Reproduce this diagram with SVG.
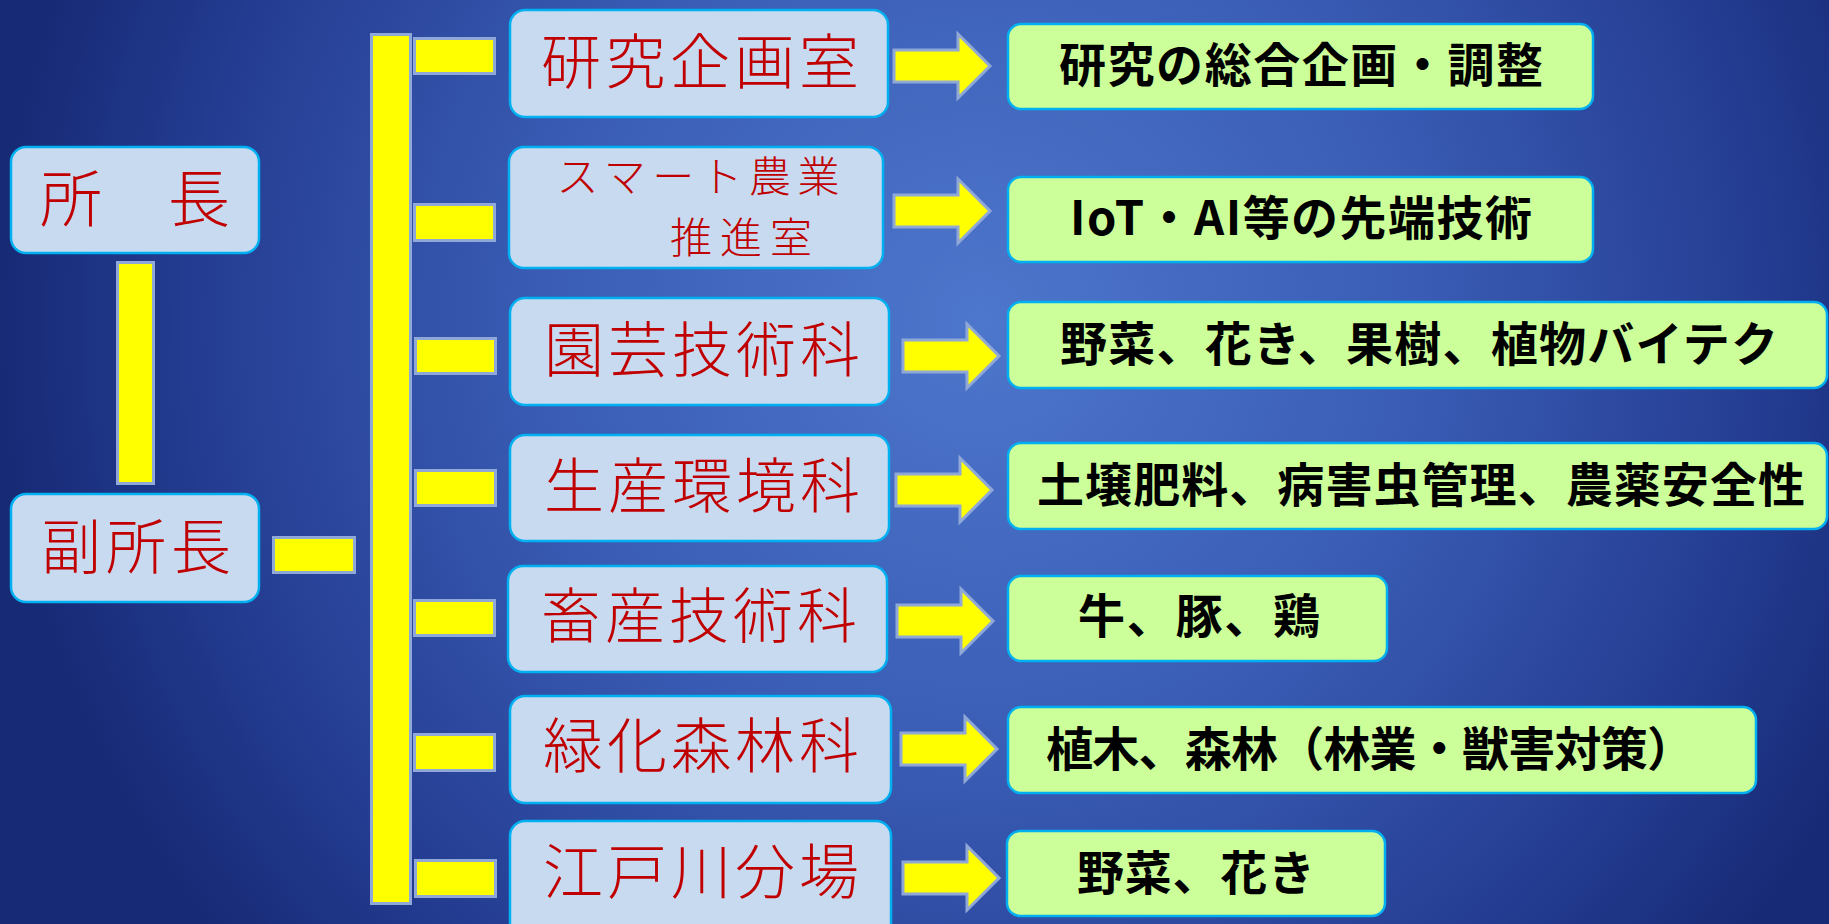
<svg xmlns="http://www.w3.org/2000/svg" width="1829" height="924" viewBox="0 0 1829 924">
<defs>
<radialGradient id="bg" gradientUnits="userSpaceOnUse" cx="980" cy="320" r="980">
<stop offset="0" stop-color="#4d77cc"/>
<stop offset="0.45" stop-color="#3a5cb4"/>
<stop offset="0.8" stop-color="#243d92"/>
<stop offset="1" stop-color="#172a76"/>
</radialGradient>
<path id="arr" d="M0,-16 H64 V-32 L96,0 L64,32 V16 H0 Z"/>
<style>
.mid{fill:#c8daf0;stroke:#00b0f0;stroke-width:2.5}
.res{fill:#ccff99;stroke:#00b0f0;stroke-width:2.5}
.yel{fill:#ffff00;stroke:#8fa8d8;stroke-width:3}
.rt{font-family:"Noto Sans CJK JP","Noto Sans CJK SC",sans-serif;font-size:60px;font-weight:300;fill:#c00000;text-anchor:middle}
.bt{font-family:"Noto Sans CJK JP","Noto Sans CJK SC",sans-serif;font-size:47px;font-weight:700;fill:#000;text-anchor:middle}
</style>
</defs>
<rect width="1829" height="924" fill="url(#bg)"/>

<g id="connectors">
<rect class="yel" x="117.5" y="262.5" width="36" height="221"/>
<rect class="yel" x="273.5" y="537.5" width="81" height="35"/>
<rect class="yel" x="371.5" y="34.5" width="39" height="869"/>
<rect class="yel" x="414.5" y="38.5" width="80" height="35"/>
<rect class="yel" x="414.5" y="204.5" width="80" height="36"/>
<rect class="yel" x="415.5" y="338.5" width="80" height="35"/>
<rect class="yel" x="415.5" y="470.5" width="80" height="35"/>
<rect class="yel" x="414.5" y="600.5" width="80" height="35"/>
<rect class="yel" x="414.5" y="734.5" width="80" height="36"/>
<rect class="yel" x="415.5" y="860.5" width="80" height="36"/>
<use href="#arr" class="yel" x="894" y="66"/>
<use href="#arr" class="yel" x="894" y="211"/>
<use href="#arr" class="yel" x="903" y="356"/>
<use href="#arr" class="yel" x="896" y="490"/>
<use href="#arr" class="yel" x="897" y="621"/>
<use href="#arr" class="yel" x="901" y="749"/>
<use href="#arr" class="yel" x="903" y="878"/>
</g>

<g id="shocho">
<rect class="mid" x="11" y="147" width="248" height="106" rx="15"/>
<text class="rt" x="135" y="222" style="font-size:62px" textLength="190">所　長</text>
</g>
<g id="fukushocho">
<rect class="mid" x="11" y="494" width="248" height="108" rx="15"/>
<text class="rt" x="136" y="569" textLength="190">副所長</text>
</g>

<g id="kenkyu-kikaku">
<rect class="mid" x="510" y="10" width="378" height="107" rx="15"/>
<text class="rt" x="700" y="84" textLength="318">研究企画室</text>
</g>
<g id="smart">
<rect class="mid" x="509" y="147" width="374" height="121" rx="15"/>
<text class="rt" style="font-size:42px"><tspan x="698" y="192" textLength="283">スマート農業</tspan><tspan x="741" y="253" textLength="142">推進室</tspan></text>
</g>
<g id="engei">
<rect class="mid" x="510" y="298" width="379" height="107" rx="15"/>
<text class="rt" x="702" y="372" textLength="316">園芸技術科</text>
</g>
<g id="seisan">
<rect class="mid" x="510" y="435" width="379" height="106" rx="15"/>
<text class="rt" x="702" y="508" textLength="316">生産環境科</text>
</g>
<g id="chikusan">
<rect class="mid" x="508" y="566" width="379" height="106" rx="15"/>
<text class="rt" x="699" y="638" textLength="316">畜産技術科</text>
</g>
<g id="ryokka">
<rect class="mid" x="510" y="696" width="381" height="107" rx="15"/>
<text class="rt" x="701" y="768" textLength="316">緑化森林科</text>
</g>
<g id="edogawa">
<rect class="mid" x="510" y="821" width="381" height="120" rx="15"/>
<text class="rt" x="701" y="894" textLength="316">江戸川分場</text>
</g>

<g id="r1">
<rect class="res" x="1008" y="24" width="585" height="85" rx="13"/>
<text class="bt" x="1301" y="82" textLength="484">研究の総合企画・調整</text>
</g>
<g id="r2">
<rect class="res" x="1008" y="177" width="585" height="85" rx="13"/>
<text class="bt" x="1301" y="235" textLength="462">IoT・AI等の先端技術</text>
</g>
<g id="r3">
<rect class="res" x="1008" y="302" width="819" height="86" rx="13"/>
<text class="bt" x="1419" y="361" textLength="718">野菜、花き、果樹、植物バイテク</text>
</g>
<g id="r4">
<rect class="res" x="1008" y="443" width="819" height="86" rx="13"/>
<text class="bt" x="1421" y="502" textLength="768">土壌肥料、病害虫管理、農薬安全性</text>
</g>
<g id="r5">
<rect class="res" x="1008" y="576" width="379" height="85" rx="13"/>
<text class="bt" x="1199" y="633" textLength="242">牛、豚、鶏</text>
</g>
<g id="r6">
<rect class="res" x="1008" y="707" width="748" height="86" rx="13"/>
<text class="bt" x="1370" y="766" textLength="648">植木、森林（林業・獣害対策）</text>
</g>
<g id="r7">
<rect class="res" x="1007" y="831" width="378" height="85" rx="13"/>
<text class="bt" x="1196" y="890" textLength="238">野菜、花き</text>
</g>
</svg>
